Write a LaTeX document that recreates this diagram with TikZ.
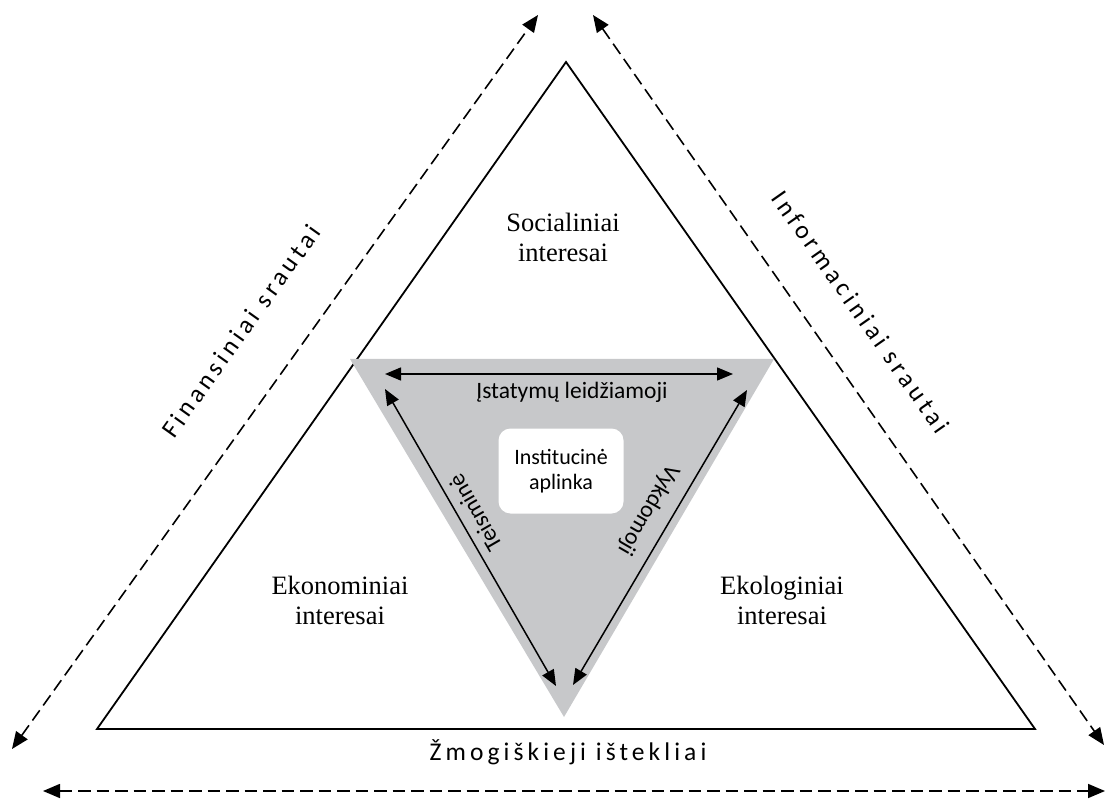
\documentclass[tikz,border=0pt]{standalone}
\usepackage{fontspec}
\setmainfont{Liberation Serif}
\newfontfamily\calib{Carlito}
\newfontfamily\calibsp[LetterSpace=16]{Carlito}
\usetikzlibrary{arrows.meta}
\definecolor{innergray}{RGB}{199,200,202}
\tikzset{
  seriflabel/.style={font=\fontsize{26.5}{30}\selectfont, align=center, inner sep=0pt},
  sanslabel/.style={font=\calib\fontsize{23.5}{27}\selectfont, inner sep=0pt},
  flowlabel/.style={font=\calibsp\fontsize{25.5}{29}\selectfont, inner sep=0pt},
  instbox/.style={fill=white, rounded corners=12pt, minimum width=125pt, minimum height=85pt,
    align=center, font=\calib\fontsize{22}{25.5}\selectfont},
  solidarrow/.style={{Triangle[length=16pt,width=13pt]}-{Triangle[length=16pt,width=13pt]}, line width=1.5pt},
  flowarrow/.style={{Triangle[length=17pt,width=14pt]}-{Triangle[length=17pt,width=14pt]}, line width=1.6pt, dash pattern=on 12.5pt off 6pt},
  outline/.style={line width=1.8pt, line join=miter}
}
\begin{document}
\begin{tikzpicture}[x=1pt,y=-1pt]
\useasboundingbox (0,0) rectangle (1108,799);
% outer triangle
\coordinate (t1) at (566,62);
\coordinate (t2) at (97,729);
\coordinate (t3) at (1035,729);
\draw[outline] (t1) -- (t2) -- (t3) -- cycle;
% inner gray triangle
\coordinate (g1) at (350,359);
\coordinate (g2) at (774,359);
\coordinate (g3) at (564,717);
\fill[innergray] (g1) -- (g2) -- (g3) -- cycle;
% institutional box
\node[instbox] (inst) at (561,471) {Institucinė\\aplinka};
% inner arrows
\coordinate (a1) at (385,374);
\coordinate (a2) at (733,374);
\coordinate (b1) at (385,389);
\coordinate (b2) at (556,686);
\coordinate (c1) at (747,390);
\coordinate (c2) at (573,685);
\draw[solidarrow] (a1) -- (a2);
\draw[solidarrow] (b1) -- (b2);
\draw[solidarrow] (c1) -- (c2);
\node[sanslabel] (leg) at (572,392) {Įstatymų leidžiamoji};
\node[sanslabel, rotate=120] (teis) at (475,513) {Teisminė};
\node[sanslabel, rotate=-120] (vykd) at (648,510) {Vykdomoji};
% interest labels
\node[seriflabel] (soc) at (563,237) {Socialiniai\\interesai};
\node[seriflabel] (eko) at (340,600) {Ekonominiai\\interesai};
\node[seriflabel] (ekl) at (782,600) {Ekologiniai\\interesai};
% outer flows
\coordinate (f1) at (12,749);
\coordinate (f2) at (538,15);
\coordinate (i1) at (593,15);
\coordinate (i2) at (1104,745);
\coordinate (h1) at (43,791);
\coordinate (h2) at (1105,791);
\draw[flowarrow] (f1) -- (f2);
\draw[flowarrow] (i1) -- (i2);
\draw[flowarrow] (h1) -- (h2);
\node[flowlabel, rotate=54.5] (fin) at (241,331) {Finansiniai srautai};
\node[flowlabel, rotate=-55] (inf) at (861,312) {Informaciniai srautai};
\node[flowlabel] (zmo) at (568,752) {Žmogiškieji ištekliai};
\end{tikzpicture}
\end{document}
